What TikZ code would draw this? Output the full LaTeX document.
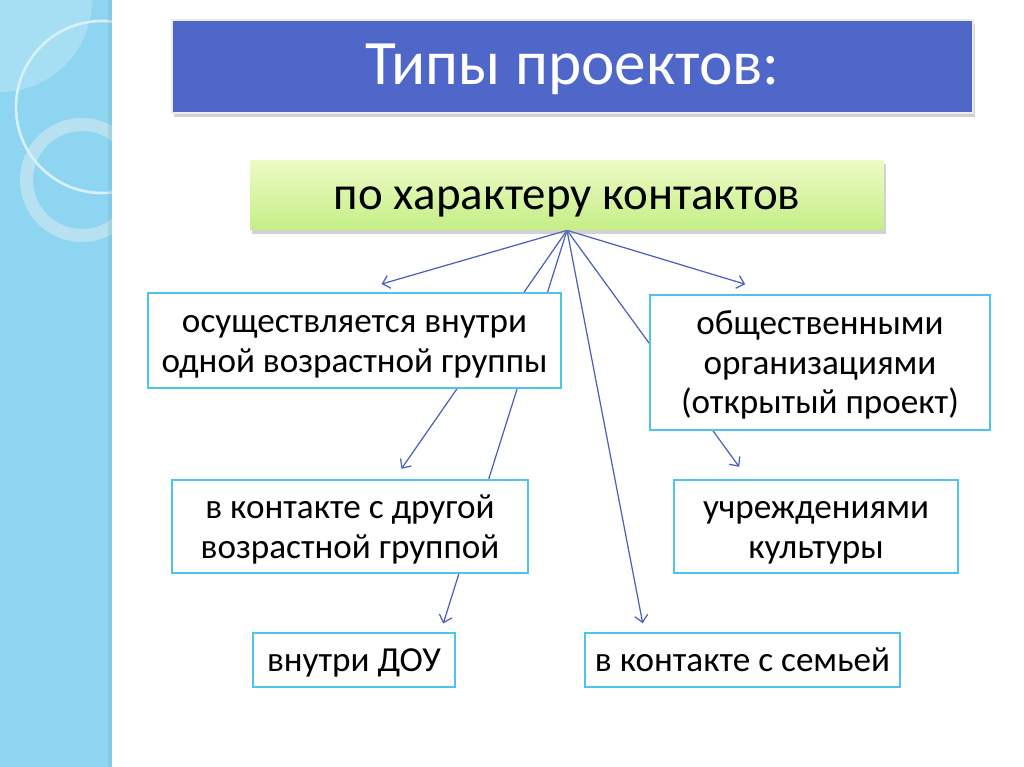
\documentclass[tikz,border=0pt]{standalone}
\usepackage{fontspec}
\setmainfont{Carlito}
\usetikzlibrary{arrows.meta,shadows,backgrounds}
\definecolor{ProjStrip}{HTML}{8ED5F1}
\definecolor{ProjRing}{HTML}{C6E6F1}
\definecolor{ProjTitle}{HTML}{4F67C8}
\definecolor{ProjFrame}{HTML}{4FC4EA}
\definecolor{ProjArrow}{HTML}{4C5FC0}
\definecolor{ProjGreenTop}{HTML}{EDFBC6}
\definecolor{ProjGreenBottom}{HTML}{C4EE86}
\newcommand{\linetop}{\rule{0pt}{19pt}}
\newcommand{\linebot}{\rule[-5.5pt]{0pt}{0pt}}

\begin{document}
\begin{tikzpicture}[x=0.02cm,y=-0.02cm,
    typebox/.style={draw=ProjFrame,line width=1.3pt,fill=white,align=center,inner sep=0pt,
      font=\fontsize{20}{22.5}\selectfont},
    arr/.style={draw=ProjArrow,line width=0.7pt,-{Straight Barb[length=4pt,width=7.5pt]}}]
  \useasboundingbox (0,0) rectangle (1024,767);
  \begin{scope}[on background layer]
    \fill[white] (0,0) rectangle (1024,767);
    \fill[ProjStrip] (0,0) rectangle (112,767);
    \begin{scope}
      \clip (0,0) rectangle (112,767);
      \fill[white,opacity=0.22] (0,0) circle[radius=92];
      \fill[ProjRing,opacity=0.75,even odd rule] (82,180) circle[radius=62] (82,180) circle[radius=49];
      \draw[white!65!ProjStrip,line width=1.5pt] (102,107) circle[radius=86];
      \fill[ProjStrip!80!black,opacity=0.25] (108,0) rectangle (112,767);
    \end{scope}
  \end{scope}

  \node[fill=ProjTitle,draw=white!85!gray,line width=1.5pt,drop shadow={shadow xshift=1pt,shadow yshift=-2pt,opacity=0.35},
    minimum width=16.02cm,minimum height=1.86cm,text=white,font=\fontsize{36}{40}\selectfont,
    text height=21pt,text depth=0pt] (title) at (572.5,66.5) {Типы проектов:};
  \node[top color=ProjGreenTop,bottom color=ProjGreenBottom,drop shadow={shadow xshift=1pt,shadow yshift=-2pt,opacity=0.35},
    minimum width=12.68cm,minimum height=1.4cm,font=\fontsize{26.7}{30}\selectfont,
    text height=16pt,text depth=0pt] (kind) at (567,195) {по характеру контактов};

  \node[typebox,minimum width=8.26cm,minimum height=1.9cm] (inside) at (354.5,340.5)
    {\linetop осуществляется внутри\\одной возрастной группы\linebot};
  \node[typebox,minimum width=6.8cm,minimum height=2.7cm] (public) at (820,362.5)
    {\linetop общественными\\организациями\\(открытый проект)\linebot};
  \node[typebox,minimum width=7.12cm,minimum height=1.86cm] (other) at (350,526.5)
    {\linetop в контакте с другой\\возрастной группой\linebot};
  \node[typebox,minimum width=5.68cm,minimum height=1.86cm] (culture) at (816,526.5)
    {\linetop учреждениями\\культуры\linebot};
  \node[typebox,minimum width=4.04cm,minimum height=1.08cm] (dou) at (354,660) {\linetop внутри ДОУ\linebot};
  \node[typebox,minimum width=6.3cm,minimum height=1.08cm] (family) at (742.5,660) {\linetop в контакте с семьей\linebot};

  \begin{scope}[on background layer]
    \draw[arr,shorten >=16pt] (kind.south) -- (inside.north);
    \draw[arr,shorten >=19pt] (kind.south) -- (public.122.5);
    \draw[arr,shorten >=7pt] (kind.south) -- (other.47);
    \draw[arr,shorten >=5pt] (kind.south) -- (dou.18);
    \draw[arr,shorten >=5pt] (kind.south) -- (family.164);
    \draw[arr,shorten >=8.5pt] (kind.south) -- (culture.145);
  \end{scope}
\end{tikzpicture}
\end{document}
